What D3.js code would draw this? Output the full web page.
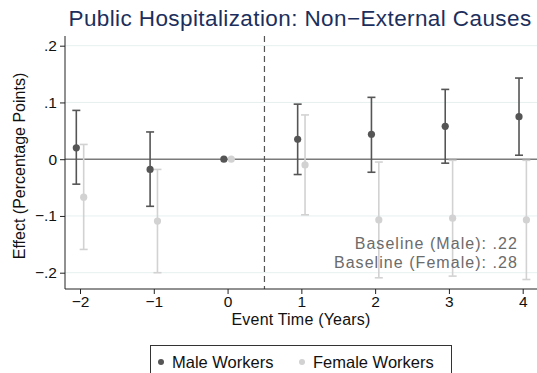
<!DOCTYPE html>
<html>
<head>
<meta charset="utf-8">
<script src="https://cdn.jsdelivr.net/npm/d3@7"></script>
<style>
  html, body { margin: 0; padding: 0; background: #fff; }
  svg { display: block; font-family: "Liberation Sans", Arial, sans-serif; }
</style>
</head>
<body>
<div id="chart"></div>
<script>
// Event-study estimates
const eventTimes = [-2, -1, 0, 1, 2, 3, 4];
const maleCoef = [0.020, -0.018, 0, 0.035, 0.044, 0.058, 0.075];
const maleLo = [-0.044, -0.083, 0, -0.027, -0.023, -0.007, 0.007];
const maleHi = [0.086, 0.048, 0, 0.097, 0.109, 0.123, 0.143];
const femaleCoef = [-0.067, -0.109, 0, -0.010, -0.107, -0.104, -0.107];
const femaleLo = [-0.159, -0.200, 0, -0.098, -0.209, -0.206, -0.212];
const femaleHi = [0.026, -0.018, 0, 0.078, -0.005, -0.002, -0.002];
const yTicks = [-0.2, -0.1, 0, 0.1, 0.2];
const baselineNotes = ['Baseline (Male): .22', 'Baseline (Female): .28'];

const width = 537, height = 373;
const plot = { left: 65, right: 537, top: 36, bottom: 289 };

const svg = d3.select('#chart').append('svg')
  .attr('width', width)
  .attr('height', height);

const x = d3.scaleLinear().domain([-2, 4]).range([80, 522.7]);
const y = d3.scaleLinear().domain([-0.2, 0.2]).range([272.7, 45.7]);

const fmt = d => d === 0 ? '0' : (d < 0 ? '\u2212' : '') + String(Math.abs(d)).replace(/^0/, '');

// gridlines
svg.append('g')
  .selectAll('line')
  .data(yTicks.filter(d => d !== 0))
  .join('line')
  .attr('x1', plot.left).attr('x2', plot.right)
  .attr('y1', d => y(d)).attr('y2', d => y(d))
  .attr('stroke', '#e6efef').attr('stroke-width', 1);

// zero line
svg.append('line')
  .attr('x1', plot.left).attr('x2', plot.right)
  .attr('y1', y(0)).attr('y2', y(0))
  .attr('stroke', '#7a7a7a').attr('stroke-width', 1.6);

// treatment line
svg.append('line')
  .attr('x1', x(0.5)).attr('x2', x(0.5))
  .attr('y1', plot.top).attr('y2', plot.bottom)
  .attr('stroke', '#555').attr('stroke-width', 1.2)
  .attr('stroke-dasharray', '6,4');

// axes
const yAxis = svg.append('g')
  .attr('transform', `translate(${plot.left},0)`)
  .call(d3.axisLeft(y).tickValues(yTicks).tickFormat(fmt).tickSize(5).tickPadding(3));
yAxis.select('.domain').attr('d', `M0,${plot.top}V${plot.bottom}`).attr('stroke', '#222');

const xAxis = svg.append('g')
  .attr('transform', `translate(0,${plot.bottom})`)
  .call(d3.axisBottom(x).tickValues(eventTimes).tickFormat(fmt).tickSize(5).tickPadding(2));
xAxis.select('.domain').attr('d', `M${plot.left},0H${plot.right}`).attr('stroke', '#222');

[yAxis, xAxis].forEach(g => {
  g.attr('font-family', null).attr('font-size', null);
  g.selectAll('.tick line').attr('stroke', '#222');
  g.selectAll('.tick text').attr('fill', '#111').attr('font-size', 15.5);
});

// series
const series = [
  { name: 'Male Workers', coef: maleCoef, lo: maleLo, hi: maleHi, color: '#555555', dx: -0.05 },
  { name: 'Female Workers', coef: femaleCoef, lo: femaleLo, hi: femaleHi, color: '#d2d2d2', dx: 0.05 }
];

// female drawn first so male sits on top
series.slice().reverse().forEach(s => {
  const pts = eventTimes.map((t, i) => ({ t, c: s.coef[i], lo: s.lo[i], hi: s.hi[i] }));
  const g = svg.append('g');
  const bars = pts.filter(p => p.lo !== p.hi);
  g.selectAll('line.ci').data(bars).join('line')
    .attr('class', 'ci')
    .attr('x1', p => x(p.t + s.dx)).attr('x2', p => x(p.t + s.dx))
    .attr('y1', p => y(p.lo)).attr('y2', p => y(p.hi))
    .attr('stroke', s.color).attr('stroke-width', 1.6);
  ['lo', 'hi'].forEach(k => {
    g.selectAll('line.cap-' + k).data(bars).join('line')
      .attr('class', 'cap-' + k)
      .attr('x1', p => x(p.t + s.dx) - 4).attr('x2', p => x(p.t + s.dx) + 4)
      .attr('y1', p => y(p[k])).attr('y2', p => y(p[k]))
      .attr('stroke', s.color).attr('stroke-width', 1.6);
  });
  g.selectAll('circle').data(pts).join('circle')
    .attr('cx', p => x(p.t + s.dx)).attr('cy', p => y(p.c))
    .attr('r', 3.6).attr('fill', s.color);
});

// baseline notes
svg.append('g')
  .selectAll('text')
  .data(baselineNotes)
  .join('text')
  .attr('x', 518).attr('y', (d, i) => 249 + i * 18.5)
  .attr('text-anchor', 'end')
  .attr('font-size', 16)
  .attr('letter-spacing', 1.05)
  .attr('fill', '#6b6b6b')
  .text(d => d);

// title
svg.append('text')
  .attr('x', 300).attr('y', 25.5)
  .attr('text-anchor', 'middle')
  .attr('font-size', 22.5)
  .attr('letter-spacing', 0.4)
  .attr('fill', '#1c2f5c')
  .text('Public Hospitalization: Non\u2212External Causes');

// axis titles
svg.append('text')
  .attr('transform', 'translate(25,166) rotate(-90)')
  .attr('text-anchor', 'middle')
  .attr('font-size', 16)
  .attr('fill', '#111')
  .text('Effect (Percentage Points)');

svg.append('text')
  .attr('x', 301).attr('y', 325)
  .attr('text-anchor', 'middle')
  .attr('font-size', 16)
  .attr('letter-spacing', 0.2)
  .attr('fill', '#111')
  .text('Event Time (Years)');

// legend
const legend = svg.append('g');
legend.append('rect')
  .attr('x', 150.5).attr('y', 345.5)
  .attr('width', 301).attr('height', 40)
  .attr('fill', '#fff').attr('stroke', '#333').attr('stroke-width', 1);
const items = legend.selectAll('g.item').data(series).join('g')
  .attr('class', 'item')
  .attr('transform', (d, i) => `translate(${i === 0 ? 161 : 302},362)`);
items.append('circle').attr('r', 3).attr('fill', d => d.color);
items.append('text')
  .attr('x', 11).attr('y', 5.5)
  .attr('font-size', 16.5)
  .attr('fill', '#111')
  .text(d => d.name);
</script>
</body>
</html>
